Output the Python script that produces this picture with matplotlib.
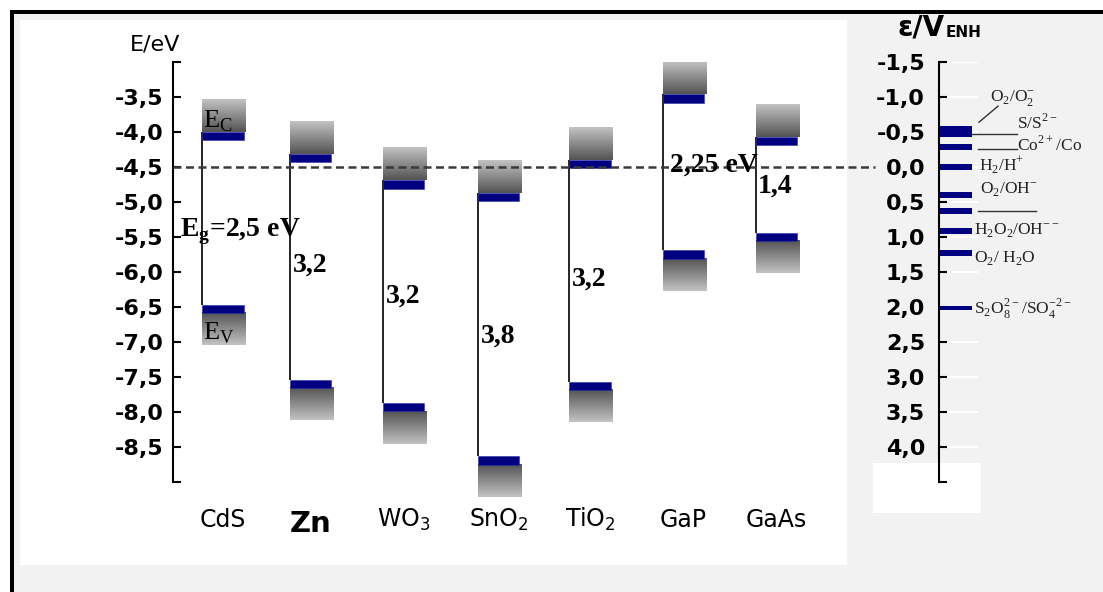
import numpy as np
import matplotlib
matplotlib.use("Agg")
import matplotlib.pyplot as plt
from matplotlib.patches import Rectangle
from matplotlib.colors import LinearSegmentedColormap
from matplotlib.transforms import blended_transform_factory

# semiconductor band edges (eV vs vacuum)
materials = ["CdS", "Zn", "WO$_\\mathregular{3}$", "SnO$_\\mathregular{2}$",
             "TiO$_\\mathregular{2}$", "GaP", "GaAs"]
e_cb = [-4.00, -4.31, -4.69, -4.87, -4.40, -3.46, -4.07]
e_vb = [-6.47, -7.54, -7.87, -8.63, -7.57, -5.69, -5.44]
gap_labels = ["E$_\\mathregular{g}$=2,5 eV", "3,2", "3,2", "3,8", "3,2", "2,25 eV", "1,4"]

# redox couples (V vs NHE)
redox_names = ["O$_\\mathregular{2}$/O$_\\mathregular{2}^\\mathregular{-}$",
               "S/S$^\\mathregular{2-}$",
               "Co$^\\mathregular{2+}$/Co",
               "H$_\\mathregular{2}$/H$^\\mathregular{+}$",
               "O$_\\mathregular{2}$/OH$^\\mathregular{-}$",
               "",
               "H$_\\mathregular{2}$O$_\\mathregular{2}$/OH$^\\mathregular{--}$",
               "O$_\\mathregular{2}$/ H$_\\mathregular{2}$O",
               "S$_\\mathregular{2}$O$_\\mathregular{8}^\\mathregular{2-}$/SO$_\\mathregular{4}^\\mathregular{-2-}$"]
redox_pot = [-0.54, -0.47, -0.28, 0.00, 0.40, 0.63, 0.91, 1.23, 2.01]

left_ticks = np.arange(-9.0, -2.9, 0.5)
right_ticks = np.arange(-1.5, 4.6, 0.5)

# layout (pixels of the 1103x592 canvas)
W, H = 1103, 592
x_pos = [0, 0.95, 1.96, 2.99, 3.98, 4.99, 6.0]
blue = "#000080"
bar_w, box_w = 0.45, 0.475
edge_h, box_h = 0.12, 0.46


def rect_px(x0, y0, x1, y1, color):
    return Rectangle((x0 / W, 1 - y1 / H), (x1 - x0) / W, (y1 - y0) / H,
                     transform=fig.transFigure, color=color, zorder=-10, lw=0)


fig = plt.figure(figsize=(W / 100, H / 100), dpi=100)
fig.patch.set_facecolor("white")
fig.add_artist(rect_px(10, 10, 1110, 600, "black"))
fig.add_artist(rect_px(14, 14, 1110, 600, "#f2f2f2"))
fig.add_artist(rect_px(20, 20, 847, 565, "white"))
fig.add_artist(rect_px(873, 463, 981, 513, "white"))

ax = fig.add_axes([173 / W, 1 - 482 / H, (939 - 173) / W, 420 / H])
ax.set_facecolor("none")
for s in ["top", "right", "bottom"]:
    ax.spines[s].set_visible(False)
ax.spines["left"].set_linewidth(1.5)

cmap = LinearSegmentedColormap.from_list("band", ["#545454", "#c2c2c2"])
grad = np.linspace(0, 1, 60).reshape(-1, 1)

for i, name in enumerate(materials):
    x = x_pos[i]
    ec, ev = e_cb[i], e_vb[i]
    ax.vlines(x, ev, ec, color="black", lw=1.2, zorder=1)
    ax.imshow(grad, cmap=cmap, origin="lower", aspect="auto", interpolation="bilinear",
              extent=[x, x + box_w, ec, ec + box_h], zorder=2, vmin=0, vmax=1)
    im = ax.imshow(1 - grad, cmap=cmap, origin="lower", aspect="auto", interpolation="bilinear",
                   extent=[x, x + box_w, ev - edge_h - box_h, ev - edge_h], zorder=2,
                   vmin=0, vmax=1)
    im.set_clip_on(False)

ax.bar(x_pos, edge_h, bottom=np.array(e_cb) - edge_h, width=bar_w, align="edge",
       color=blue, edgecolor="#3030b0", lw=0.4, zorder=3)
ax.bar(x_pos, edge_h, bottom=np.array(e_vb) - edge_h, width=bar_w, align="edge",
       color=blue, edgecolor="#3030b0", lw=0.4, zorder=3)

ax.axhline(-4.5, 0, (875 - 173) / 766, color="#3a3a3a", lw=1.8, dashes=(3.2, 1.8), zorder=5)

serif = "Liberation Serif"
ax.text(0.01, -3.94, "E$_\\mathregular{C}$", family=serif, fontsize=19, va="baseline", zorder=6)
ax.text(0.01, -6.96, "E$_\\mathregular{V}$", family=serif, fontsize=19, va="baseline", zorder=6)
gap_xy = [(-0.24, -5.49), (0.99, -6.0), (1.99, -6.44), (3.02, -7.01),
          (4.01, -6.19), (5.07, -4.57), (6.02, -4.86)]
for lab, (tx, ty) in zip(gap_labels, gap_xy):
    ax.text(tx, ty, lab, family=serif, fontsize=20, fontweight="bold", va="baseline", zorder=6)

trans = blended_transform_factory(ax.transData, ax.transAxes)
for i, name in enumerate(materials):
    if name == "Zn":
        ax.text(x_pos[i] + bar_w / 2, -0.12, name, transform=trans, ha="center",
                va="baseline", fontsize=21, fontweight="bold")
    else:
        ax.text(x_pos[i] + bar_w / 2, -0.107, name, transform=trans, ha="center",
                va="baseline", fontsize=17)

ax.set_yticks(left_ticks)
ax.set_yticklabels(["" if v in (-9.0, -3.0) else f"{v:.1f}".replace(".", ",") for v in left_ticks],
                   fontsize=16, fontweight="bold")
ax.tick_params(axis="y", direction="in", length=6, width=1.5, pad=7)
ax.tick_params(axis="x", bottom=False, labelbottom=False)
ax.set_xlim(-0.314, 7.985)
ax.set_ylim(-9, -3)

fig.text(155 / W, 1 - 51 / H, "E/eV", ha="center", va="baseline", fontsize=16)

# right hand scale: redox potentials
axr = fig.add_axes([939 / W, 1 - 482 / H, (W - 939) / W, 420 / H])
axr.set_facecolor("none")
for s in ["top", "right", "bottom"]:
    axr.spines[s].set_visible(False)
axr.spines["left"].set_linewidth(1.5)
axr.set_xlim(0, 1)
axr.set_ylim(4.5, -1.5)
axr.hlines(right_ticks, 0, 0.24, color="white", lw=1.5, zorder=1)
bar_h = [0.085] * 8 + [0.055]
axr.barh(redox_pot, 0.195, height=bar_h, left=0.005, color=blue, zorder=3)

label_xy = [(0.311, -0.97), (0.476, -0.63), (0.476, -0.31), (0.244, -0.01), (0.25, 0.33),
            (0.0, 0.63), (0.213, 0.91), (0.213, 1.3), (0.213, 2.03)]
for lab, (tx, ty) in zip(redox_names, label_xy):
    if lab:
        axr.text(tx, ty, lab, family=serif, fontsize=12.5, color="#222222", va="center", ha="left")
axr.plot([0.244, 0.36], [-0.64, -0.87], color="#333333", lw=1)
axr.plot([0.2, 0.476], [-0.47, -0.47], color="#333333", lw=1)
axr.plot([0.238, 0.476], [-0.26, -0.26], color="#333333", lw=1)
axr.plot([0.238, 0.59], [0.63, 0.63], color="#333333", lw=1)

axr.set_yticks(right_ticks)
axr.set_yticklabels(["" if v == 4.5 else f"{v:.1f}".replace(".", ",").replace("-0,0", "0,0")
                     for v in right_ticks], fontsize=16, fontweight="bold")
axr.tick_params(axis="y", direction="in", length=6, width=1.5, pad=10)
axr.tick_params(axis="x", bottom=False, labelbottom=False)

fig.text(945 / W, 1 - 36 / H, "ε/V", ha="right", va="baseline", fontsize=20, fontweight="bold")
fig.text(946 / W, 1 - 37 / H, "ENH", ha="left", va="baseline", fontsize=11, fontweight="bold")

fig.savefig("out.png", dpi=100)
